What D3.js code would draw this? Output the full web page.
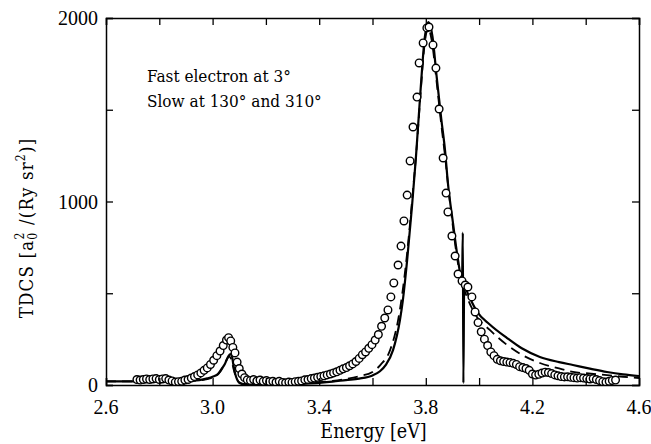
<!DOCTYPE html>
<html><head><meta charset="utf-8">
<script src="https://cdn.jsdelivr.net/npm/d3@7"></script>
<style>body{margin:0;background:#fff}svg{display:block}</style>
</head><body><svg id="c" width="651" height="444"></svg>
<script>
// ---- data ----
const xTicks = [2.6, 3.0, 3.4, 3.8, 4.2, 4.6];
const yTicks = [0, 1000, 2000];
const annotation = ["Fast electron at 3°", "Slow at 130° and 310°"];

const solidE = [2.60,2.70,2.80,2.90,2.95,2.98,3.00,3.02,3.035,3.046,3.058,3.066,3.072,3.078,3.085,3.092,3.10,3.114,3.15,3.20,3.25,3.30,3.35,3.40,3.45,3.50,3.55,3.60,3.628,3.65,3.677,3.703,3.714,3.73,3.748,3.763,3.78,3.795,3.81,3.825,3.84,3.858,3.872,3.883,3.902,3.921,3.936,3.939,3.941,3.944,3.96,3.992,4.04,4.105,4.16,4.228,4.30,4.352,4.42,4.48,4.54,4.60];
const solidV = [20,20,20,22,27,36,45,60,90,115,153,168,160,110,60,30,12,5,3,3,4,5,8,12,18,27,35,52,75,110,190,354,463,680,970,1242,1600,1880,1978,1900,1690,1450,1281,1100,883,681,570,830,10,540,490,400,330,256,200,153,125,109,88,71,58,49];

const dashE = [2.60,2.70,2.80,2.90,2.95,3.00,3.03,3.05,3.062,3.07,3.08,3.09,3.10,3.12,3.20,3.30,3.40,3.45,3.50,3.55,3.60,3.63,3.666,3.696,3.71,3.73,3.75,3.765,3.78,3.795,3.808,3.822,3.84,3.858,3.872,3.885,3.902,3.921,3.94,3.96,3.99,4.04,4.105,4.16,4.228,4.30,4.352,4.42,4.48,4.54,4.60];
const dashV = [20,20,20,21,25,40,75,130,155,140,80,35,15,5,5,8,15,22,33,48,71,110,190,354,480,720,1030,1280,1580,1850,1945,1880,1660,1420,1250,1070,860,660,540,460,375,300,218,165,120,90,71,62,54,45,38];

const expE = [2.716,2.728,2.740,2.752,2.764,2.776,2.788,2.800,2.812,2.824,2.836,2.848,2.860,2.872,2.884,2.896,2.908,2.920,2.932,2.944,2.956,2.968,2.980,2.992,3.004,3.016,3.028,3.040,3.052,3.060,3.068,3.076,3.084,3.092,3.100,3.110,3.120,3.130,3.142,3.154,3.166,3.178,3.190,3.202,3.214,3.226,3.238,3.250,3.262,3.274,3.286,3.298,3.310,3.322,3.334,3.346,3.358,3.370,3.382,3.394,3.406,3.418,3.430,3.442,3.454,3.466,3.478,3.490,3.502,3.514,3.526,3.538,3.550,3.562,3.574,3.586,3.598,3.610,3.622,3.634,3.646,3.658,3.669,3.680,3.696,3.707,3.718,3.730,3.741,3.752,3.767,3.775,3.790,3.804,3.812,3.827,3.838,3.850,3.865,3.876,3.883,3.898,3.910,3.921,3.936,3.948,3.958,3.973,3.985,3.996,4.008,4.020,4.032,4.044,4.056,4.068,4.080,4.092,4.104,4.116,4.128,4.140,4.152,4.164,4.176,4.188,4.200,4.212,4.224,4.236,4.248,4.260,4.272,4.284,4.296,4.308,4.320,4.332,4.344,4.356,4.368,4.380,4.392,4.404,4.416,4.428,4.440,4.452,4.464,4.476,4.488,4.500,4.512,4.524,4.536,4.548,4.559];
const expV = [30,27,30,33,30,33,35,30,33,35,27,22,16,18,20,27,30,38,46,55,66,80,93,112,135,160,185,215,245,258,240,205,175,125,90,60,40,28,25,30,22,27,20,24,18,20,15,20,14,12,16,14,18,20,22,28,30,35,38,42,46,50,55,60,66,72,80,88,95,105,115,128,145,165,180,200,220,245,275,320,365,409,480,556,654,757,894,1035,1221,1406,1569,1755,1864,1946,1951,1853,1727,1504,1237,1046,943,812,703,605,567,545,534,480,398,340,290,250,215,180,160,140,132,128,125,122,118,112,100,95,90,80,60,54,58,65,70,68,62,55,50,46,44,45,42,40,38,40,38,35,33,35,30,24,18,16,20,25,27];

// ---- layout ----
const svg = d3.select("#c");
const m = {l:106, r:639, t:18, b:385};
const x = d3.scaleLinear().domain([2.6, 4.6]).range([m.l, m.r]);
const y = d3.scaleLinear().domain([0, 2000]).range([m.b, m.t]);
const numFont = "'Liberation Serif', serif";
const txtFont = "'DejaVu Serif', serif";

const clipId = "plotclip";
svg.append("defs").append("clipPath").attr("id", clipId)
  .append("rect").attr("x", m.l).attr("y", m.t - 5).attr("width", m.r - m.l).attr("height", m.b - m.t + 5);

const gPlot = svg.append("g").attr("clip-path", `url(#${clipId})`);

const line = d3.line().x(d => x(d[0])).y(d => y(d[1])).curve(d3.curveMonotoneX);

gPlot.append("path").datum(dashE.map((e,i)=>[e,dashV[i]]))
  .attr("d", line).attr("fill","none").attr("stroke","#000")
  .attr("stroke-width",1.8).attr("stroke-dasharray","10,6");

gPlot.append("path").datum(solidE.map((e,i)=>[e,solidV[i]]))
  .attr("d", line).attr("fill","none").attr("stroke","#000")
  .attr("stroke-width",2.2);

gPlot.selectAll("circle.exp").data(expE.map((e,i)=>[e,expV[i]])).enter()
  .append("circle").attr("class","exp")
  .attr("cx", d => x(d[0])).attr("cy", d => y(d[1])).attr("r", 3.8)
  .attr("fill","#fff").attr("stroke","#000").attr("stroke-width",1.4);

// axes (ticks inward on all sides)
const tickLen = 7;
const xAxB = d3.axisBottom(x).tickValues(d3.range(2.6, 4.6001, 0.2)).tickSize(-tickLen).tickFormat("");
const xAxT = d3.axisTop(x).tickValues(d3.range(2.6, 4.6001, 0.2)).tickSize(-tickLen).tickFormat("");
const yAxL = d3.axisLeft(y).tickValues(d3.range(0, 2001, 500)).tickSize(-tickLen).tickFormat("");
const yAxR = d3.axisRight(y).tickValues(d3.range(0, 2001, 500)).tickSize(-tickLen).tickFormat("");
function styleAxis(g){ g.selectAll("path.domain").attr("stroke","#000").attr("stroke-width",1.5);
  g.selectAll(".tick line").attr("stroke","#000").attr("stroke-width",1.3); }
svg.append("g").attr("transform",`translate(0,${m.b})`).call(xAxB).call(styleAxis);
svg.append("g").attr("transform",`translate(0,${m.t})`).call(xAxT).call(styleAxis);
svg.append("g").attr("transform",`translate(${m.l},0)`).call(yAxL).call(styleAxis);
svg.append("g").attr("transform",`translate(${m.r},0)`).call(yAxR).call(styleAxis);

// tick labels
svg.selectAll("text.xt").data(xTicks).enter().append("text")
  .attr("x", d => x(d)).attr("y", m.b + 29).attr("text-anchor","middle")
  .attr("font-family", numFont).attr("font-size", 20).text(d => d.toFixed(1));
svg.selectAll("text.yt").data(yTicks).enter().append("text")
  .attr("x", m.l - 8).attr("y", d => y(d) + 7).attr("text-anchor","end")
  .attr("font-family", numFont).attr("font-size", 20).text(d => d);

// axis titles
svg.append("text").attr("x", (m.l + m.r)/2 + 1).attr("y", 438).attr("text-anchor","middle")
  .attr("font-family", txtFont).attr("font-stretch","condensed").attr("font-size", 19.5).text("Energy [eV]");

const yt = svg.append("text").attr("transform","translate(33,228) rotate(-90)")
  .attr("text-anchor","middle").attr("font-family", txtFont).attr("font-stretch","condensed")
  .attr("font-size", 18.5).attr("letter-spacing", 1.2);
yt.append("tspan").text("TDCS  [a");
yt.append("tspan").attr("font-size",12).attr("dy",4).text("0");
yt.append("tspan").attr("font-size",12).attr("dx",-8).attr("dy",-13).text("2");
yt.append("tspan").attr("dy",9).text("  /(Ry  sr");
yt.append("tspan").attr("font-size",12).attr("dy",-8).text("2");
yt.append("tspan").attr("dy",8).text(")]");

// annotation
svg.selectAll("text.ann").data(annotation).enter().append("text")
  .attr("x", 147).attr("y", (d,i) => 82 + i*25)
  .attr("font-family", txtFont).attr("font-stretch","condensed").attr("font-size", 17).text(d => d);
</script></body></html>
